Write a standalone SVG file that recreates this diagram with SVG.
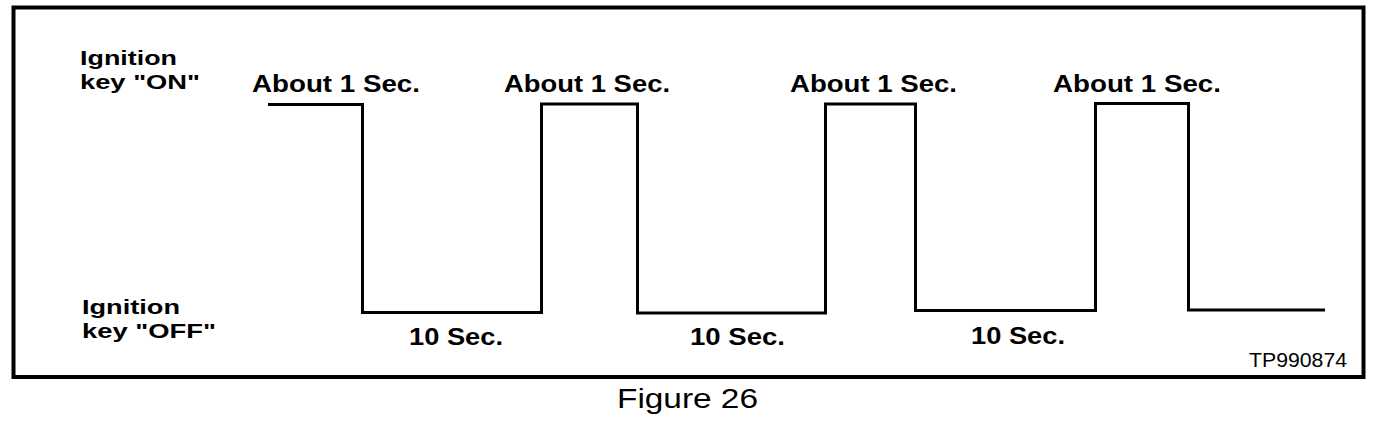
<svg xmlns="http://www.w3.org/2000/svg" width="1392" height="436" viewBox="0 0 1392 436">
<style>
.b{font-family:"Liberation Sans",Arial,Helvetica,sans-serif;font-weight:bold;font-size:24px;fill:#000}
.s{font-size:21px}
.r{font-family:"Liberation Sans",Arial,Helvetica,sans-serif;font-weight:normal;fill:#000}
.wave{fill:none;stroke:#000;stroke-width:3;stroke-linejoin:miter}
</style>
<rect width="1392" height="436" fill="#fff"/>
<g id="frame">
<rect x="13.5" y="7.5" width="1350" height="369.5" fill="none" stroke="#000" stroke-width="4"/>
</g>
<g id="labels-left">
<text class="b s" x="80" y="65" textLength="97" lengthAdjust="spacingAndGlyphs">Ignition</text>
<text class="b s" x="80" y="89" textLength="120" lengthAdjust="spacingAndGlyphs">key "ON"</text>
<text class="b s" x="82" y="314" textLength="98" lengthAdjust="spacingAndGlyphs">Ignition</text>
<text class="b s" x="82" y="338" textLength="134" lengthAdjust="spacingAndGlyphs">key "OFF"</text>
</g>
<g id="labels-on">
<text class="b" x="252" y="92" textLength="168" lengthAdjust="spacingAndGlyphs">About 1 Sec.</text>
<text class="b" x="504" y="92" textLength="166" lengthAdjust="spacingAndGlyphs">About 1 Sec.</text>
<text class="b" x="790" y="92" textLength="167" lengthAdjust="spacingAndGlyphs">About 1 Sec.</text>
<text class="b" x="1053" y="92" textLength="168" lengthAdjust="spacingAndGlyphs">About 1 Sec.</text>
</g>
<g id="labels-off">
<text class="b" x="409" y="345" textLength="94" lengthAdjust="spacingAndGlyphs">10 Sec.</text>
<text class="b" x="690" y="345" textLength="95" lengthAdjust="spacingAndGlyphs">10 Sec.</text>
<text class="b" x="971" y="344" textLength="94" lengthAdjust="spacingAndGlyphs">10 Sec.</text>
</g>
<g id="connectors">
<path class="wave" d="M268,104.5 H362.5 V312.5 H541.5 V104 H637.5 V313 H825.5 V104 H915.5 V310.5 H1095.5 V103.5 H1188.5 V310 H1325"/>
</g>
<g id="ref">
<text class="r" x="1249" y="367" font-size="20" textLength="98" lengthAdjust="spacingAndGlyphs">TP990874</text>
</g>
<g id="caption">
<text class="r" x="617" y="408" font-size="28" textLength="141" lengthAdjust="spacingAndGlyphs">Figure 26</text>
</g>
</svg>
